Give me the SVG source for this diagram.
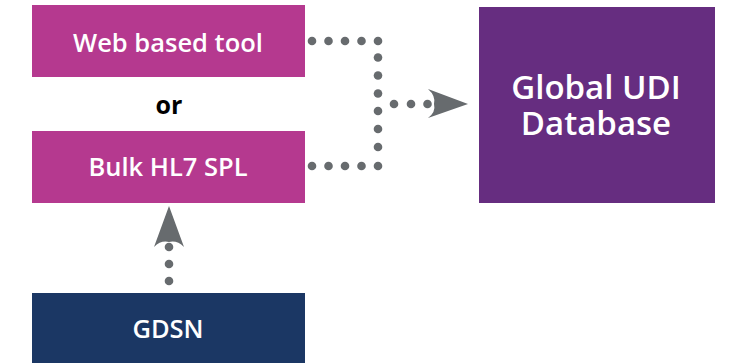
<svg xmlns="http://www.w3.org/2000/svg" width="731" height="363" viewBox="0 0 731 363">
<style>
.lbl{font-family:"Open Sans","Liberation Sans",sans-serif;font-weight:600;fill:#fff;text-anchor:middle}
.src{fill:#B5398F}
.dot{fill:#676B6E}
.head{fill:#676B6E}
</style>
<rect width="731" height="363" fill="#fff"/>
<g id="web">
<rect class="src" x="32" y="5" width="273" height="72"/>
<text class="lbl" x="168" y="52" font-size="25.5">Web based tool</text>
</g>
<g id="or">
<text x="169" y="114" font-family="'Open Sans','Liberation Sans',sans-serif" font-weight="700" font-size="25" fill="#000" text-anchor="middle">or</text>
</g>
<g id="bulk">
<rect class="src" x="32" y="131" width="273" height="72"/>
<text class="lbl" x="168" y="176" font-size="25.5">Bulk HL7 SPL</text>
</g>
<g id="gdsn">
<rect x="32" y="293" width="273" height="70" fill="#1B3764"/>
<text class="lbl" x="168" y="338" font-size="25.5">GDSN</text>
</g>
<g id="udi">
<rect x="479" y="7" width="236" height="196" fill="#662D80"/>
<text class="lbl" font-size="33"><tspan x="596" y="99">Global UDI</tspan><tspan x="596" y="135">Database</tspan></text>
</g>
<g id="connectors">
<g class="dot">
<circle cx="312" cy="41" r="4.3"/><circle cx="328.5" cy="41" r="4.3"/><circle cx="345" cy="41" r="4.3"/><circle cx="361.5" cy="41" r="4.3"/><circle cx="378" cy="41" r="4.3"/>
<circle cx="378" cy="57.5" r="4.3"/><circle cx="378" cy="75.5" r="4.3"/><circle cx="378" cy="93.5" r="4.3"/><circle cx="378" cy="111" r="4.3"/><circle cx="378" cy="129" r="4.3"/><circle cx="378" cy="147" r="4.3"/>
<circle cx="312" cy="166" r="4.3"/><circle cx="328.5" cy="166" r="4.3"/><circle cx="345" cy="166" r="4.3"/><circle cx="361.5" cy="166" r="4.3"/><circle cx="378" cy="166" r="4.3"/>
<circle cx="394" cy="104" r="4.3"/><circle cx="411" cy="104" r="4.3"/><circle cx="427.5" cy="104" r="4.3"/>
<circle cx="169" cy="247" r="4.3"/><circle cx="169" cy="264" r="4.3"/><circle cx="169" cy="281" r="4.3"/>
</g>
<path class="head" d="M468,104 L428,89 Q436,96 434,104 Q436,112 428,118 Z"/>
<path class="head" d="M169,206 L184,247 Q177,240 169,242 Q161,240 154,247 Z"/>
</g>
</svg>
